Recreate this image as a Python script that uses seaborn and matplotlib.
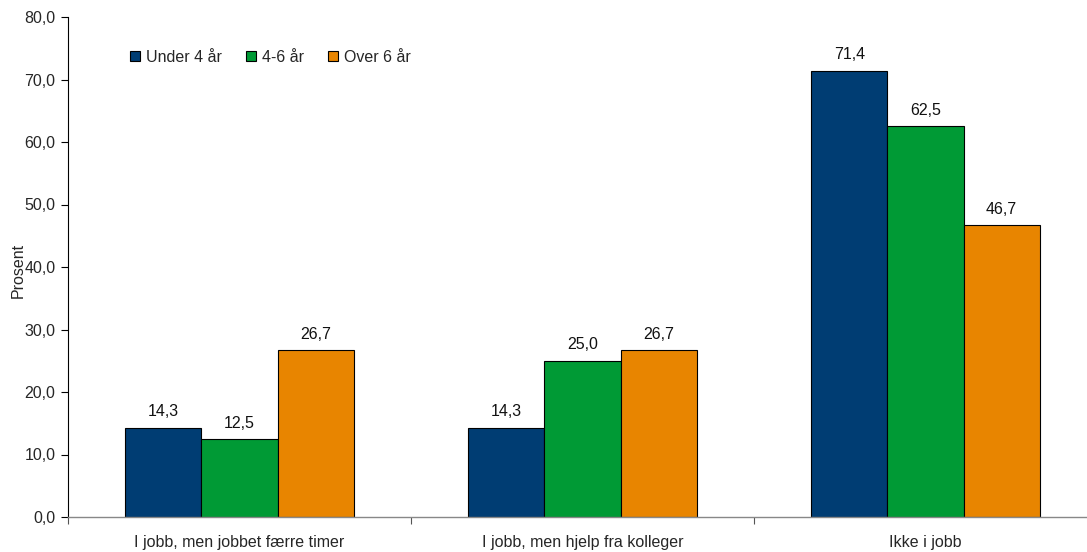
import matplotlib
matplotlib.use("Agg")
import matplotlib.pyplot as plt
import seaborn as sns
import pandas as pd
from matplotlib.ticker import FixedLocator, FuncFormatter

categories = ["I jobb, men jobbet færre timer", "I jobb, men hjelp fra kolleger", "Ikke i jobb"]
series = ["Under 4 år", "4-6 år", "Over 6 år"]
under4 = [14.3, 14.3, 71.4]
mid46 = [12.5, 25.0, 62.5]
over6 = [26.7, 26.7, 46.7]
colors = ["#003d73", "#009a35", "#e88500"]

rows = []
for s, vals in zip(series, [under4, mid46, over6]):
    for c, v in zip(categories, vals):
        rows.append({"Kategori": c, "Gruppe": s, "Prosent": v})
df = pd.DataFrame(rows)

sns.set_style("white")
plt.rcParams['font.family'] = ['Liberation Sans', 'DejaVu Sans']
FS = 11.5

fig = plt.figure(figsize=(10.87, 5.52), dpi=100)
AW = 3 * 343
ax = fig.add_axes([68/1087, 1-517/552, AW/1087, 500/552])

sns.barplot(data=df, x="Kategori", y="Prosent", hue="Gruppe", order=categories,
            hue_order=series, palette=colors, width=0.666, gap=0,
            edgecolor="black", linewidth=0.8, ax=ax, saturation=1, errorbar=None)

for cont in ax.containers:
    ax.bar_label(cont, labels=[f"{b.get_height():.1f}".replace(".", ",") for b in cont],
                 padding=6, fontsize=FS, color="#111111")

ax.set_ylim(0, 80)
ax.set_xlim(-0.5, 2.5)
ax.set_yticks(range(0, 81, 10))
ax.yaxis.set_major_formatter(FuncFormatter(lambda v, p: f"{v:.1f}".replace(".", ",")))
ax.tick_params(axis="y", direction="out", length=5, width=0.8, color="black", labelsize=FS, pad=4, left=True)
ax.tick_params(axis="x", which="major", length=0, labelsize=FS, pad=13)
ax.xaxis.set_minor_locator(FixedLocator([-0.5, 0.5, 1.5, 2.5]))
ax.tick_params(axis="x", which="minor", direction="out", length=5, width=0.8, color="#555555", bottom=True)

for side in ["top", "right"]:
    ax.spines[side].set_visible(False)
ax.spines["left"].set_color("black")
ax.spines["left"].set_linewidth(0.8)
ax.spines["bottom"].set_color("#888888")
ax.spines["bottom"].set_linewidth(1.0)

ax.set_xlabel("")
ax.set_ylabel("Prosent", fontsize=FS)
ax.yaxis.set_label_coords(-42/AW, 0.494)

leg = ax.legend(loc="center left", bbox_to_anchor=(62/AW, 0.92), ncol=3, frameon=False,
                fontsize=FS, handlelength=0.65, handleheight=0.65, handletextpad=0.35,
                columnspacing=1.5, borderaxespad=0, borderpad=0)
for h in leg.legend_handles:
    h.set_edgecolor("black")
    h.set_linewidth(0.8)

fig.savefig("out.png", dpi=100)
